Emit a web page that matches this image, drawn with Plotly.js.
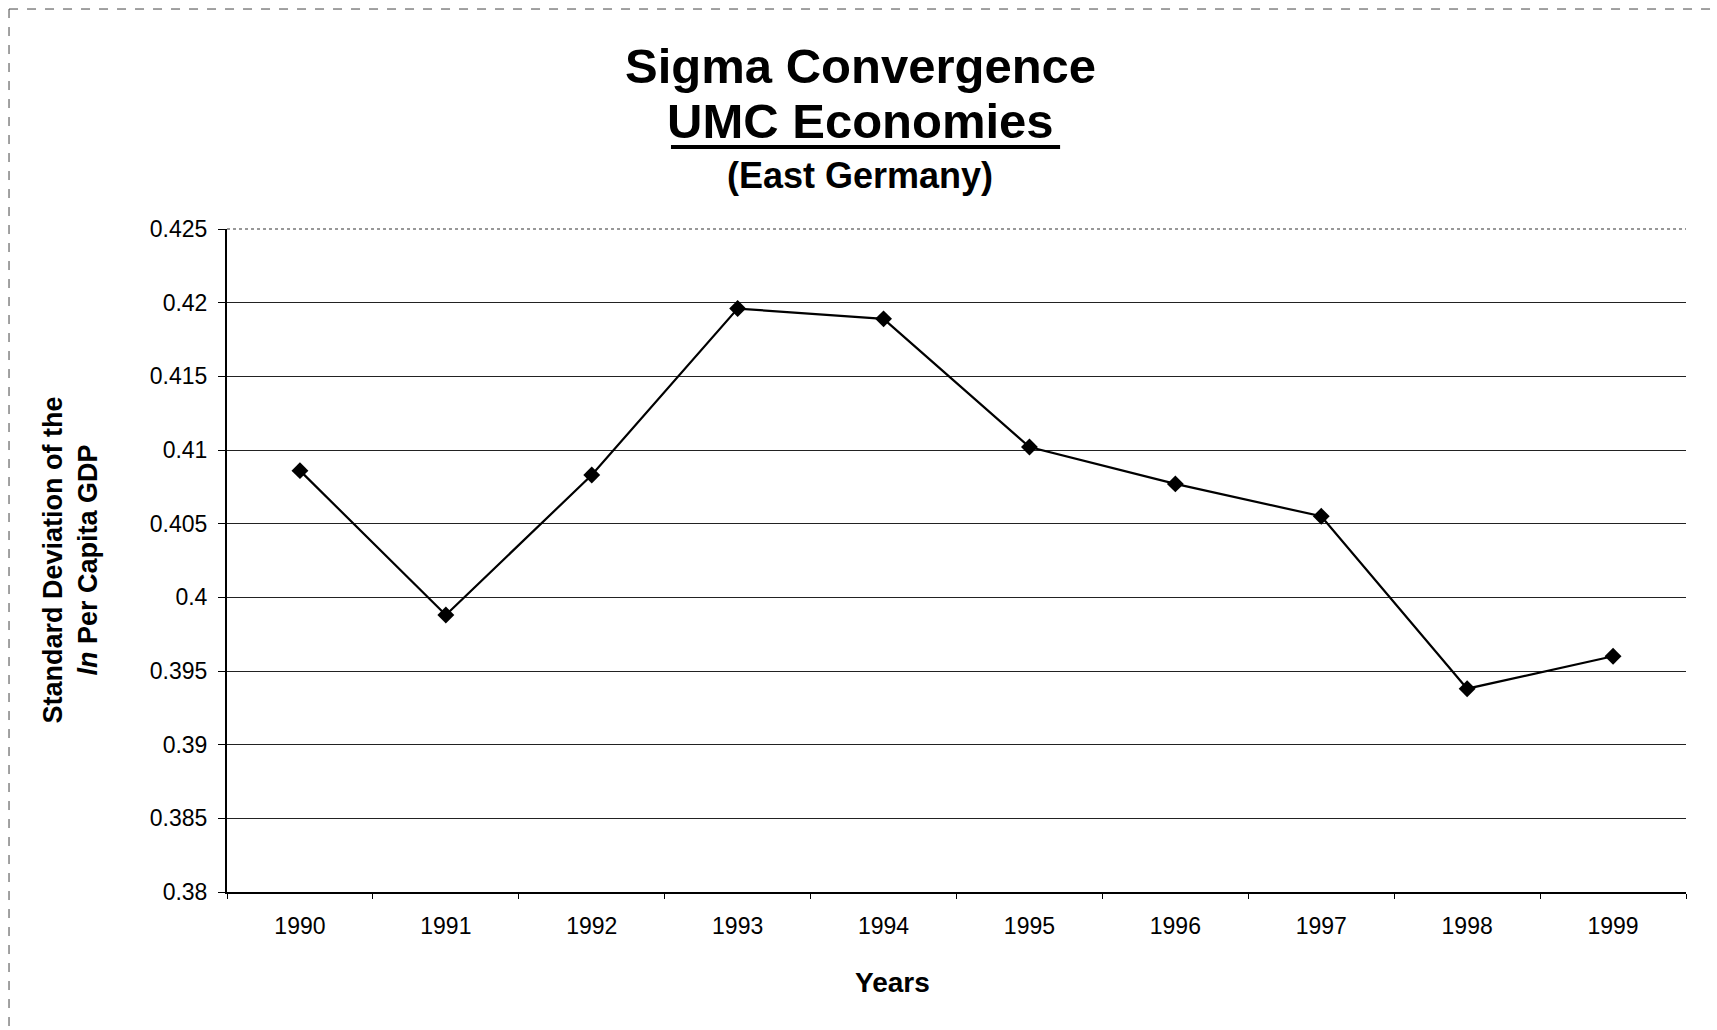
<!DOCTYPE html>
<html>
<head>
<meta charset="utf-8">
<script src="https://cdn.plot.ly/plotly-3.0.1.min.js"></script>
<style>
  html, body { margin: 0; padding: 0; background: #ffffff; }
  #chart { width: 1717px; height: 1030px; }
</style>
</head>
<body>
<div id="chart"></div>
<script>
// ---- Data ----
const years = ["1990", "1991", "1992", "1993", "1994", "1995", "1996", "1997", "1998", "1999"];
const sigmaValues = [0.4086, 0.3988, 0.4083, 0.4196, 0.4189, 0.4102, 0.4077, 0.4055, 0.3938, 0.3960];
const yTickVals = [0.38, 0.385, 0.39, 0.395, 0.4, 0.405, 0.41, 0.415, 0.42, 0.425];
const yTickText = ["0.38", "0.385", "0.39", "0.395", "0.4", "0.405", "0.41", "0.415", "0.42", "0.425"];

const titleLine1 = "Sigma Convergence";
const titleLine2 = "UMC Economies";
const titleLine3 = "(East Germany)";
const yTitle = "Standard Deviation of the<br><i>ln</i> Per Capita GDP";
const xTitle = "Years";

const FONT = "Liberation Sans, Arial, Helvetica, sans-serif";

const trace = {
  type: "scatter",
  mode: "lines+markers",
  x: years,
  y: sigmaValues,
  line: { color: "#000000", width: 2.2 },
  marker: { symbol: "diamond", size: 13, color: "#000000" },
  showlegend: false,
  hoverinfo: "x+y"
};

const layout = {
  width: 1717,
  height: 1030,
  paper_bgcolor: "#ffffff",
  plot_bgcolor: "#ffffff",
  margin: { l: 227, r: 31, t: 229, b: 138, pad: 0 },
  font: { family: FONT, color: "#000000", size: 23 },
  showlegend: false,
  xaxis: {
    type: "category",
    range: [-0.5, 9.5],
    showline: true,
    linecolor: "#000000",
    linewidth: 2,
    ticks: "outside",
    tickson: "boundaries",
    ticklen: 5,
    tickwidth: 1,
    tickcolor: "#000000",
    ticklabelstandoff: 12,
    showgrid: false,
    zeroline: false,
    tickfont: { family: FONT, size: 23, color: "#000000" }
  },
  yaxis: {
    range: [0.38, 0.425],
    tickmode: "array",
    tickvals: yTickVals,
    ticktext: yTickText,
    showline: true,
    linecolor: "#000000",
    linewidth: 2,
    ticks: "outside",
    ticklen: 7,
    tickwidth: 1,
    tickcolor: "#000000",
    ticklabelstandoff: 6,
    showgrid: true,
    gridcolor: "#222222",
    gridwidth: 1.2,
    zeroline: false,
    tickfont: { family: FONT, size: 23, color: "#000000" }
  },
  annotations: [
    {
      text: "<b>" + titleLine1 + "</b>",
      xref: "paper", yref: "paper",
      x: 0.434, y: 1.246,
      xanchor: "center", yanchor: "middle",
      showarrow: false,
      font: { family: FONT, size: 49, color: "#000000" }
    },
    {
      text: "<b>" + titleLine2 + "</b>",
      xref: "paper", yref: "paper",
      x: 0.434, y: 1.163,
      xanchor: "center", yanchor: "middle",
      showarrow: false,
      font: { family: FONT, size: 49, color: "#000000" }
    },
    {
      text: "<b>" + titleLine3 + "</b>",
      xref: "paper", yref: "paper",
      x: 0.434, y: 1.0814,
      xanchor: "center", yanchor: "middle",
      showarrow: false,
      font: { family: FONT, size: 36, color: "#000000" }
    },
    {
      text: "<b>" + yTitle + "</b>",
      xref: "paper", yref: "paper",
      x: -0.1076, y: 0.5,
      xanchor: "center", yanchor: "middle",
      textangle: -90,
      showarrow: false,
      font: { family: FONT, size: 27, color: "#000000" }
    },
    {
      text: "<b>" + xTitle + "</b>",
      xref: "paper", yref: "paper",
      x: 0.4558, y: -0.137,
      xanchor: "center", yanchor: "middle",
      showarrow: false,
      font: { family: FONT, size: 28, color: "#000000" }
    }
  ],
  shapes: [
    // underline of the second title line
    { type: "line", xref: "paper", yref: "paper",
      x0: 0.3043, x1: 0.571, y0: 1.1237, y1: 1.1237,
      line: { color: "#000000", width: 4 } },
    // top gridline at 0.425 (dotted in the reference)
    { type: "line", xref: "paper", yref: "paper",
      x0: 0, x1: 1, y0: 1, y1: 1,
      line: { color: "#333333", width: 1.2, dash: "dot" } },
    // outer frame (top and left edges visible in the reference)
    { type: "line", xref: "paper", yref: "paper",
      x0: -0.1494, x1: 1.0212, y0: 1.3318, y1: 1.3318,
      line: { color: "#444444", width: 1, dash: "dash" } },
    { type: "line", xref: "paper", yref: "paper",
      x0: -0.1494, x1: -0.1494, y0: 1.3318, y1: -0.208,
      line: { color: "#444444", width: 1, dash: "dash" } }
  ]
};

Plotly.newPlot("chart", [trace], layout, { displayModeBar: false });
</script>
</body>
</html>
